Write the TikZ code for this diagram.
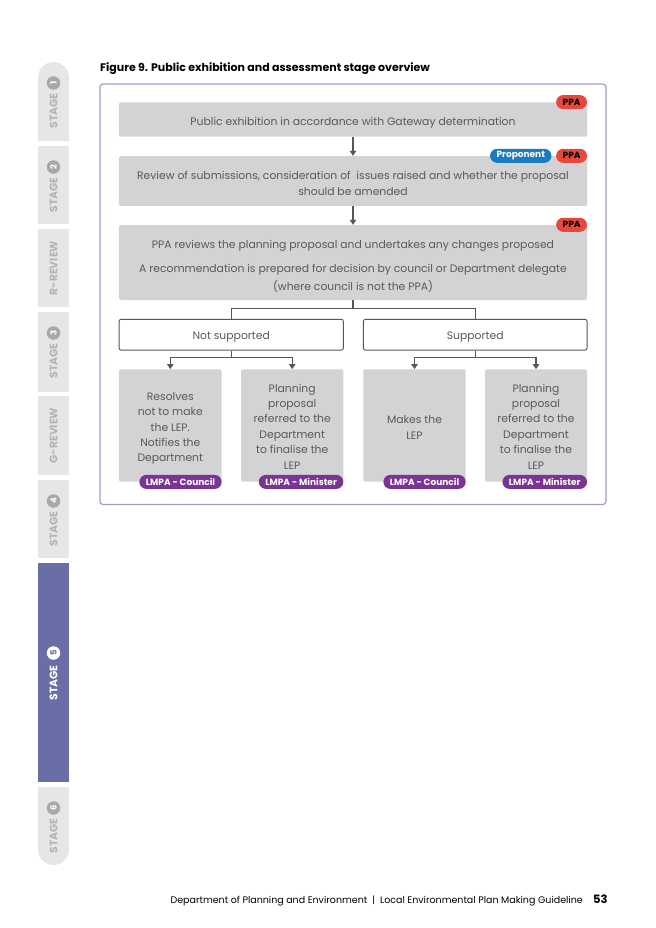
\documentclass[tikz,border=0pt]{standalone}
\usepackage{fontspec}
\setmainfont{Poppins}
\usetikzlibrary{arrows.meta}

\definecolor{boxgrey}{HTML}{D3D3D5}
\definecolor{bodygrey}{HTML}{58595B}
\definecolor{linegrey}{HTML}{555658}
\definecolor{framelav}{HTML}{9A9ECF}
\definecolor{ppared}{HTML}{E8483B}
\definecolor{propblue}{HTML}{1B7BC1}
\definecolor{lmpapurple}{HTML}{7A3594}
\definecolor{tabgrey}{HTML}{E6E6E8}
\definecolor{tabtext}{HTML}{B4B4B6}
\definecolor{tabcircle}{HTML}{A8A8AA}
\definecolor{stagefive}{HTML}{6A6EA7}

% taller first line, pushes the text down a little
\newcommand{\dropstrut}[1][16bp]{\rule{0pt}{#1}}

\tikzset{
  stepbox/.style={fill=boxgrey, rounded corners=2bp, inner sep=0pt, align=center, text=bodygrey, font=\fontsize{10.8bp}{16.4bp}\selectfont},
  outcomebox/.style={stepbox, minimum height=112.4bp, font=\fontsize{10.8bp}{15.4bp}\selectfont},
  choicebox/.style={draw=linegrey, line width=0.9bp, fill=white, rounded corners=2bp, inner sep=0pt, align=center, text=bodygrey, minimum height=30.7bp, font=\fontsize{10.8bp}{16bp}\selectfont},
  rolebox/.style={rounded corners=7bp, minimum height=14bp, inner xsep=6.5bp, inner ysep=0pt, anchor=east, font=\bfseries\fontsize{9bp}{10bp}\selectfont},
  ppa/.style={rolebox, fill=ppared, text=black},
  proponent/.style={rolebox, fill=propblue, text=white},
  lmpa/.style={rolebox, fill=lmpapurple, text=white},
  link/.style={draw=linegrey, line width=1.1bp},
  flow/.style={link, -{Triangle[length=5bp, width=6.5bp]}},
  tabword/.style={rotate=90, text=tabtext, font=\bfseries\fontsize{10.8bp}{11bp}\selectfont},
  tabnum/.style={circle, fill=tabcircle, text=white, minimum size=13.5bp, inner sep=0pt, rotate=90, font=\bfseries\fontsize{8.5bp}{9bp}\selectfont},
}

\begin{document}
\begin{tikzpicture}[x=1bp, y=-1bp]
    \useasboundingbox (0,0) rectangle (656,928);
    % Side tabs
    \fill[tabgrey] (38,141) {[rounded corners=15.5bp] -- (38,62) -- (69,62)} -- (69,141) -- cycle;
    \fill[tabgrey] (38,146) rectangle (69,224);
    \fill[tabgrey] (38,229) rectangle (69,307);
    \fill[tabgrey] (38,312) rectangle (69,392);
    \fill[tabgrey] (38,396) rectangle (69,475);
    \fill[tabgrey] (38,480) rectangle (69,558);
    \fill[stagefive] (38,563) rectangle (69,782);
    \fill[tabgrey] (38,787) {[rounded corners=15.5bp] -- (38,865) -- (69,865)} -- (69,787) -- cycle;
    \node[tabnum] (numOne) at (53.5,83) {1};
    \node[tabword] (tabOne) at (53.5,111) {STAGE};
    \node[tabnum] (numTwo) at (53.5,167) {2};
    \node[tabword] (tabTwo) at (53.5,195) {STAGE};
    \node[tabword] (tabRreview) at (53.5,268) {R-REVIEW};
    \node[tabnum] (numThree) at (53.5,333) {3};
    \node[tabword] (tabThree) at (53.5,361) {STAGE};
    \node[tabword] (tabGreview) at (53.5,435.5) {G-REVIEW};
    \node[tabnum] (numFour) at (53.5,501) {4};
    \node[tabword] (tabFour) at (53.5,529) {STAGE};
    \node[tabnum, fill=white, text=stagefive] (numFive) at (53.5,653) {5};
    \node[tabword, text=white] (tabFive) at (53.5,683) {STAGE};
    \node[tabnum] (numSix) at (53.5,808) {6};
    \node[tabword] (tabSix) at (53.5,836) {STAGE};
    % Title and frame
    \node[anchor=base west, inner sep=0pt, font=\bfseries\fontsize{11bp}{12bp}\selectfont] (title) at (100,71) {Figure 9. Public exhibition and assessment stage overview};
    \draw[framelav, line width=1.2bp, rounded corners=3bp] (100,84) rectangle (606,504.5);
    % Main steps
    \node[stepbox, minimum width=468bp, minimum height=34.4bp] (exhibit) at (353,119.5) {\dropstrut[14bp]Public exhibition in accordance with Gateway determination};
    \node[stepbox, minimum width=468bp, minimum height=50bp] (review) at (353,181) {\dropstrut[12.5bp]Review of submissions, consideration of\ \ issues raised and whether the proposal\\should be amended};
    \node[stepbox, minimum width=468bp, minimum height=75bp, font=\fontsize{10.8bp}{17.4bp}\selectfont] (assess) at (353,262.5) {\dropstrut PPA reviews the planning proposal and undertakes any changes proposed\\[7bp]A recommendation is prepared for decision by council or Department delegate\\(where council is not the PPA)};
    % Decision
    \node[choicebox, minimum width=224.3bp] (notsup) at (231.2,334.7) {\dropstrut[12bp]Not supported};
    \node[choicebox, minimum width=223.7bp] (sup) at (475.2,334.7) {\dropstrut[12bp]Supported};
    % Outcomes
    \node[outcomebox, minimum width=102.7bp] (resolve) at (170.3,425.5) {\dropstrut[14bp]Resolves\\not to make\\the LEP.\\Notifies the\\Department};
    \node[outcomebox, minimum width=102.3bp] (referA) at (292.2,425.5) {\dropstrut[10bp]Planning\\proposal\\referred to the\\Department\\to finalise the\\LEP};
    \node[outcomebox, minimum width=102.4bp] (makes) at (414.5,425.5) {\dropstrut[12bp]Makes the\\LEP};
    \node[outcomebox, minimum width=102bp] (referB) at (536,425.5) {\dropstrut[10bp]Planning\\proposal\\referred to the\\Department\\to finalise the\\LEP};
    % Roles
    \node[ppa] (ppaOne) at (exhibit.north east) {PPA};
    \node[ppa] (ppaTwo) at (review.north east) {PPA};
    \node[proponent] (propTwo) at ([xshift=-4.3bp]ppaTwo.west) {Proponent};
    \node[ppa] (ppaThree) at (assess.north east) {PPA};
    \node[lmpa] (lmpaA) at (resolve.south east) {LMPA - Council};
    \node[lmpa] (lmpaB) at (referA.south east) {LMPA - Minister};
    \node[lmpa] (lmpaC) at (makes.south east) {LMPA - Council};
    \node[lmpa] (lmpaD) at (referB.south east) {LMPA - Minister};
    % Step lines
    \draw[flow] (exhibit) -- (review);
    \draw[flow] (review) -- (assess);
    \draw[link] (assess.south) -- ++(0,8.3) -| (notsup.north);
    \draw[link] (assess.south) -- ++(0,8.3) -| (sup.north);
    % Outcome lines
    \draw[flow] (notsup.south) -- ++(0,7) -| (resolve.north);
    \draw[flow] (notsup.south) -- ++(0,7) -| (referA.north);
    \draw[flow] (sup.south) -- ++(0,7) -| (makes.north);
    \draw[flow] (sup.south) -- ++(0,7) -| (referB.north);
    % Footer
    \node[anchor=base east, inner sep=0pt, font=\fontsize{9.5bp}{11bp}\selectfont] (footer) at (583,903) {Department of Planning and Environment\ \ |\ \ Local Environmental Plan Making Guideline};
    \node[anchor=base west, inner sep=0pt, font=\bfseries\fontsize{11.5bp}{12bp}\selectfont] (pagenum) at (593,903) {53};
\end{tikzpicture}
\end{document}
